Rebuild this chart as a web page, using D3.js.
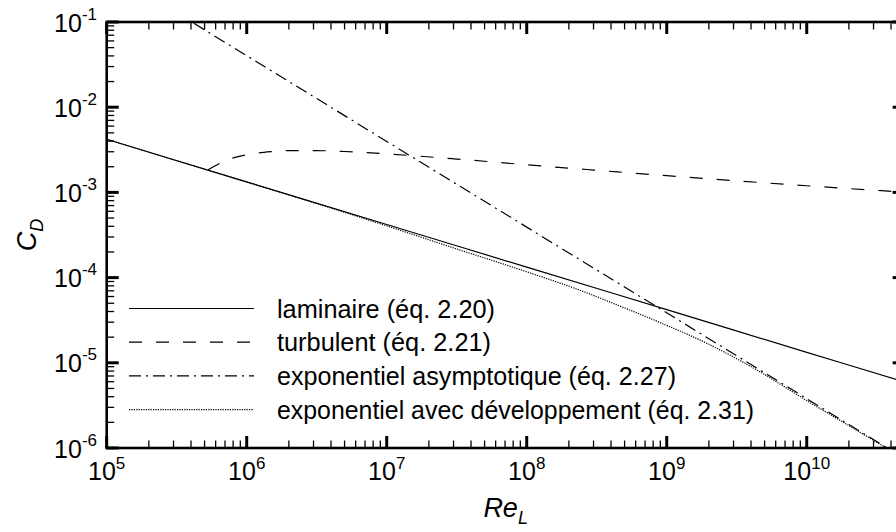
<!DOCTYPE html>
<html><head><meta charset="utf-8">
<script src="https://cdn.jsdelivr.net/npm/d3@7/dist/d3.min.js"></script>
<style>body{margin:0;background:#fff}svg{display:block}text{font-family:"Liberation Sans",Arial,sans-serif;fill:#000}</style>
</head><body><svg id="c" width="896" height="532"></svg>
<script>
// ---- data ----
const xDomain = [1e5, 5e10];
const yDomain = [1e-6, 1e-1];
const xTickExps = [5, 6, 7, 8, 9, 10];
const yTickExps = [-1, -2, -3, -4, -5, -6];
const seriesNames = ["laminaire (éq. 2.20)", "turbulent (éq. 2.21)", "exponentiel asymptotique (éq. 2.27)", "exponentiel avec développement (éq. 2.31)"];
const laminar = [[1e5,4.2e-3],[1e6,1.328e-3],[1e7,4.2e-4],[1e8,1.328e-4],[1e9,4.2e-5],[1e10,1.328e-5],[5e10,5.94e-6]];
const turbulent = [[5.3e5,1.84e-3],[7e5,2.35e-3],[1e6,2.77e-3],[1.5e6,3.01e-3],[2e6,3.09e-3],[3e6,3.10e-3],[5e6,3.02e-3],[1e7,2.83e-3],[3e7,2.48e-3],[1e8,2.11e-3],[3e8,1.83e-3],[1e9,1.57e-3],[3e9,1.375e-3],[1e10,1.197e-3],[5e10,1.005e-3]];
const asymptotic = [[3e5,0.1353],[4.05e5,0.1],[3.75e10,1e-6],[5e10,7.48e-7]];
const development = [[1e5,4.2e-3],[1e6,1.32e-3],[3e6,7.6e-4],[1e7,4.05e-4],[3e7,2.23e-4],[1e8,1.17e-4],[2.4e8,7.1e-5],[5e8,4.4e-5],[9e8,2.96e-5],[2e9,1.65e-5],[4.6e9,7.9e-6],[1e10,3.6e-6],[2e10,1.83e-6],[3.7e10,1e-6],[5e10,7.4e-7]];

// ---- layout ----
const L = 106.7, R = 904.6, T = 22, B = 448;
const legendWidths = [218, 214, 399, 477];
const svg = d3.select("#c");
const x = d3.scaleLog().domain(xDomain).range([L, R]);
const y = d3.scaleLog().domain(yDomain).range([B, T]);

svg.append("defs").append("clipPath").attr("id","clip")
  .append("rect").attr("x",L).attr("y",T).attr("width",R-L).attr("height",B-T);

function logTicks(scale){
  const [a,b] = scale.domain();
  const out = [];
  for (let e = Math.floor(Math.log10(a)); e <= Math.ceil(Math.log10(b)); e++){
    for (let m = 1; m <= 9; m++){
      const v = m*Math.pow(10,e);
      if (v >= a*0.999 && v <= b*1.001) out.push({v, major: m===1});
    }
  }
  return out;
}
const g = svg.append("g");
logTicks(x).forEach(t=>{
  const len = t.major?12:7.5, sw = t.major?3:1.3, px = x(t.v);
  g.append("line").attr("x1",px).attr("x2",px).attr("y1",B).attr("y2",B-len).attr("stroke","#000").attr("stroke-width",sw);
  g.append("line").attr("x1",px).attr("x2",px).attr("y1",T).attr("y2",T+len).attr("stroke","#000").attr("stroke-width",sw);
});
logTicks(y).forEach(t=>{
  const len = t.major?12:7.5, sw = t.major?3:1.3, py = y(t.v);
  g.append("line").attr("y1",py).attr("y2",py).attr("x1",L).attr("x2",L+len).attr("stroke","#000").attr("stroke-width",sw);
  g.append("line").attr("y1",py).attr("y2",py).attr("x1",R).attr("x2",R-len).attr("stroke","#000").attr("stroke-width",sw);
});
g.append("rect").attr("x",L).attr("y",T).attr("width",R-L).attr("height",B-T)
  .attr("fill","none").attr("stroke","#000").attr("stroke-width",2.6);

// tick labels
xTickExps.forEach(e=>{
  const t = svg.append("text").attr("x",x(Math.pow(10,e))).attr("y",480).attr("text-anchor","middle").attr("font-size",25);
  t.append("tspan").text("10");
  t.append("tspan").attr("dy",-11).attr("font-size",17).text(String(e));
});
yTickExps.forEach(e=>{
  const t = svg.append("text").attr("x",97).attr("y",y(Math.pow(10,e))+9.5).attr("text-anchor","end").attr("font-size",25);
  t.append("tspan").text("10");
  t.append("tspan").attr("dy",-12).attr("font-size",17).text("-"+Math.abs(e));
});

// axis titles
const xt2 = svg.append("text").attr("x",(L+R)/2).attr("y",517).attr("text-anchor","middle").attr("font-size",27).attr("font-style","italic");
xt2.append("tspan").text("Re");
xt2.append("tspan").attr("dy",7).attr("font-size",18).text("L");
const yt2 = svg.append("text").attr("transform",`translate(36,${(T+B)/2}) rotate(-90)`).attr("text-anchor","middle").attr("font-size",27).attr("font-style","italic");
yt2.append("tspan").text("C");
yt2.append("tspan").attr("dy",7).attr("font-size",18).text("D");

// curves
const styles = [
  {data: laminar, dash: null},
  {data: turbulent, dash: "13,14"},
  {data: asymptotic, dash: "12,5,2,5"},
  {data: development, dash: "1.2,1.2"}
];
const line = d3.line().x(d=>x(d[0])).y(d=>y(d[1])).curve(d3.curveMonotoneX);
const cg = svg.append("g").attr("clip-path","url(#clip)");
styles.forEach(s=>{
  cg.append("path").attr("d",line(s.data)).attr("fill","none").attr("stroke","#000")
    .attr("stroke-width",1.2).attr("stroke-dasharray",s.dash);
});

// legend
const legY = [308.5, 342.2, 375.9, 409.6];
seriesNames.forEach((n,i)=>{
  svg.append("line").attr("x1",129).attr("x2",254).attr("y1",legY[i]).attr("y2",legY[i])
    .attr("stroke","#000").attr("stroke-width",1.2).attr("stroke-dasharray",styles[i].dash);
  svg.append("text").attr("x",277).attr("y",legY[i]+9).attr("font-size",25)
    .attr("textLength",legendWidths[i]).attr("lengthAdjust","spacingAndGlyphs").text(n);
});
</script></body></html>
